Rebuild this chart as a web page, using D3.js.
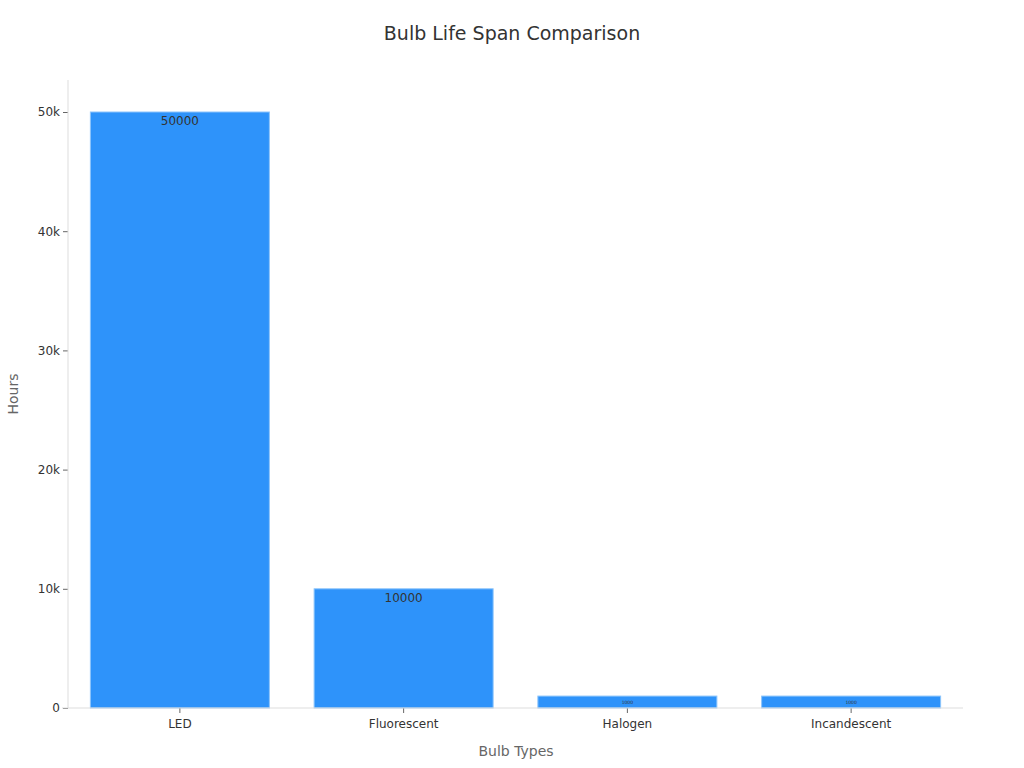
<!DOCTYPE html><html><head><meta charset="utf-8"><script src="https://cdn.jsdelivr.net/npm/d3@7"></script>
<style>body{margin:0;background:#fff;font-family:"DejaVu Sans",sans-serif}</style></head><body><svg id="c" width="1024" height="768"></svg>
<script>
const categories=["LED","Fluorescent","Halogen","Incandescent"];
const hours=[50000,10000,1000,1000];
const yTicks=[0,10000,20000,30000,40000,50000];
const svg=d3.select("#c");
const x=d3.scaleBand().domain(categories).range([68,963]).paddingInner(0.2).paddingOuter(0.1);
const y=d3.scaleLinear().domain([0,50000]).range([708,112]);
svg.append("text").attr("x",512).attr("y",40).attr("text-anchor","middle").attr("font-size",19).attr("fill","#333").text("Bulb Life Span Comparison");
svg.selectAll("rect.b").data(hours).join("rect").attr("x",(d,i)=>x(categories[i])).attr("width",x.bandwidth())
 .attr("y",d=>y(d)).attr("height",d=>y(0)-y(d)).attr("fill","#2e93fa").attr("stroke","#8cc4fb").attr("stroke-width",1);
svg.selectAll("text.v").data(hours).join("text").attr("x",(d,i)=>x(categories[i])+x.bandwidth()/2)
 .attr("y",d=>d>=5000?y(d)+13:y(d)+7.5).attr("text-anchor","middle").attr("font-size",d=>d>=5000?12:4.5).attr("fill","#333").text(d=>d);
const ya=svg.append("g").attr("transform","translate(68,0)").call(d3.axisLeft(y).tickValues(yTicks).tickSize(5).tickFormat(d=>d===0?"0":d3.format("~s")(d)));
ya.select(".domain").remove();
ya.selectAll("line").attr("stroke","#666");
ya.selectAll("text").attr("font-size",12).attr("fill","#333").attr("font-family","DejaVu Sans");
svg.append("line").attr("x1",68).attr("x2",68).attr("y1",80).attr("y2",708).attr("stroke","#ddd");
const xa=svg.append("g").attr("transform","translate(0,708)").call(d3.axisBottom(x).tickSize(5).tickPadding(6));
xa.select(".domain").remove();
xa.selectAll("line").attr("stroke","#666");
xa.selectAll("text").attr("font-size",12).attr("fill","#333").attr("font-family","DejaVu Sans");
svg.append("line").attr("x1",62).attr("x2",963).attr("y1",708).attr("y2",708).attr("stroke","#ddd");
svg.append("text").attr("x",516).attr("y",756).attr("text-anchor","middle").attr("font-size",14).attr("fill","#666").text("Bulb Types");
svg.append("text").attr("transform","translate(18,394) rotate(-90)").attr("text-anchor","middle").attr("font-size",14).attr("fill","#666").text("Hours");
</script></body></html>
